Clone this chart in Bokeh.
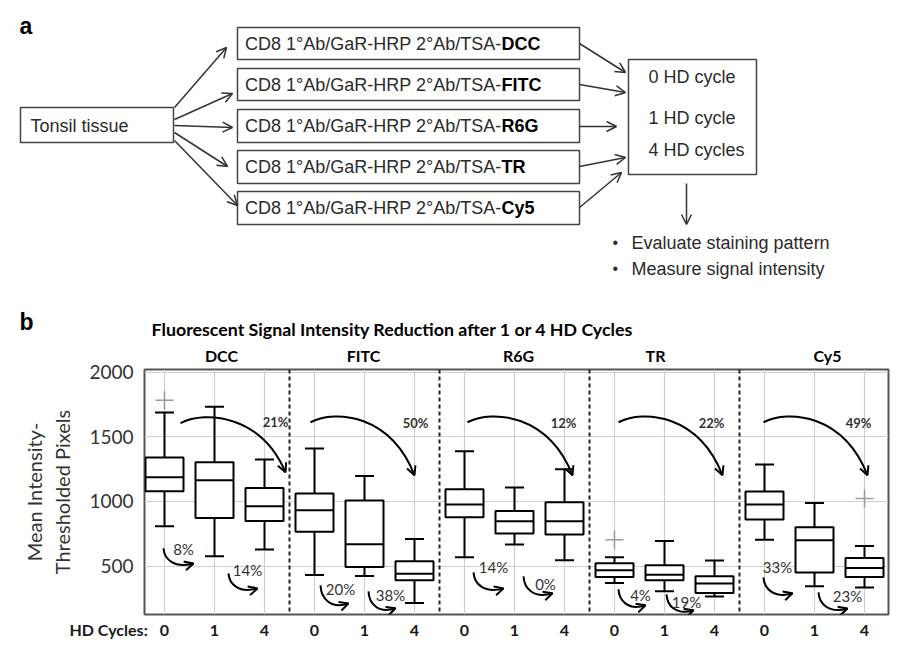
from bokeh.plotting import figure
from bokeh.models import ColumnDataSource, Range1d, FixedTicker, Span, Arrow, OpenHead, LinearAxis
from bokeh.embed import file_html
from bokeh.resources import INLINE
from bokeh.core.properties import value

# ---------------- data ----------------
dyes = ["DCC", "FITC", "R6G", "TR", "Cy5"]
cycles = ["0", "1", "4"]
upper = [1687, 1731, 1323, 1408, 1197, 709, 1388, 1107, 1248, 567, 694, 542, 1285, 988, 655]
q3 = [1339, 1303, 1104, 1060, 1006, 536, 1094, 926, 993, 521, 505, 420, 1076, 800, 562]
median = [1186, 1163, 962, 931, 668, 441, 975, 846, 846, 467, 433, 364, 975, 699, 485]
q1 = [1078, 872, 848, 766, 492, 389, 877, 751, 743, 415, 389, 291, 859, 449, 415]
lower = [807, 575, 627, 430, 423, 214, 567, 666, 544, 368, 304, 265, 704, 343, 333]
outlier_idx = [0, 9, 14]
outlier_val = [1782, 704, 1022]
pct_0_to_4 = ["21%", "50%", "12%", "22%", "49%"]
pct_0_to_1 = ["8%", "20%", "14%", "4%", "33%"]
pct_1_to_4 = ["14%", "38%", "0%", "19%", "23%"]
y_ticks = [500, 1000, 1500, 2000]
chart_title = "Fluorescent Signal Intensity Reduction after 1 or 4 HD Cycles"
y_label = "Mean Intensity-\nThresholded Pixels"
x_label = "HD Cycles:"
protocol_prefix = "CD8 1°Ab/GaR-HRP 2°Ab/TSA-"
source_label = "Tonsil tissue"
cycle_lines = ["0 HD cycle", "1 HD cycle", "4 HD cycles"]
outcomes = ["Evaluate staining pattern", "Measure signal intensity"]

INK = "#2b2b2b"
FA = "Liberation Sans"
FB = "Lato"

# ---------------- panel a (flow chart + panel b heading, pixel coordinates) ----------------
pa = figure(width=917, height=340, x_range=Range1d(0, 917), y_range=Range1d(340, 0),
            output_backend="svg", toolbar_location=None,
            x_axis_location=None, y_axis_location=None, min_border=0)
pa.grid.visible = False
pa.outline_line_color = None

row_top = [27, 68, 109, 150, 191]
row_bot = [59, 100, 142, 183, 224]
row_mid = [(a + b) / 2 for a, b in zip(row_top, row_bot)]

pa.quad(left=[20], right=[173], top=[107], bottom=[142], fill_color=None, line_color="#444", line_width=1.5)
pa.quad(left=[237] * 5, right=[579] * 5, top=row_top, bottom=row_bot, fill_color=None,
        line_color="#444", line_width=1.5)
pa.quad(left=[628], right=[756], top=[59], bottom=[174], fill_color=None, line_color="#444", line_width=1.5)

pa.text(x=[19, 19], y=[25, 321], text=["a", "b"], text_font=value(FA), text_font_style="bold",
        text_font_size="23px", text_baseline="middle", text_color="black")
pa.text(x=[392], y=[328], text=[chart_title], text_font=value(FB), text_font_style="bold",
        text_font_size="17.8px", text_baseline="middle", text_align="center", text_color="black")
pa.text(x=[30], y=[125], text=[source_label], text_font=value(FA), text_font_size="18px",
        text_baseline="middle", text_color=INK)
pa.text(x=[501] * 5, y=row_mid, text=[protocol_prefix] * 5, text_font=value(FA), text_font_size="18px",
        text_baseline="middle", text_align="right", text_color=INK)
pa.text(x=[501] * 5, y=row_mid, text=dyes, text_font=value(FA), text_font_size="18px",
        text_font_style="bold", text_baseline="middle", text_align="left", text_color="black")
pa.text(x=[648] * 3, y=[76, 117, 149], text=cycle_lines, text_font=value(FA), text_font_size="18px",
        text_baseline="middle", text_color=INK)
pa.text(x=[612] * 2, y=[242, 268], text=["•"] * 2, text_font=value(FA), text_font_size="16px",
        text_baseline="middle", text_color=INK)
pa.text(x=[631] * 2, y=[242, 268], text=outcomes, text_font=value(FA), text_font_size="18px",
        text_baseline="middle", text_color=INK)

flow_arrows = [
    (174, 107, 226, 47), (174, 119, 232, 93), (174, 125, 232, 127), (174, 132, 227, 166), (174, 140, 237, 205),
    (579, 43, 625, 72), (579, 84, 625, 92), (579, 126, 616, 126), (579, 166, 625, 157), (579, 207, 621, 172),
    (686, 183, 686, 224),
]
for x0, y0, x1, y1 in flow_arrows:
    pa.add_layout(Arrow(end=OpenHead(size=10, line_width=1.5, line_color="#333"),
                        x_start=x0, y_start=y0, x_end=x1, y_end=y1,
                        line_color="#333", line_width=1.5))

# ---------------- panel b (box plot) ----------------
pb = figure(width=917, height=308, x_range=Range1d(-0.4, 14.48), y_range=Range1d(125, 2020),
            output_backend="svg", toolbar_location=None,
            min_border_left=144, min_border_right=29, min_border_top=29, min_border_bottom=34)
bottom_axis = pb.xaxis[0]
left_axis = pb.yaxis[0]

xs = [g * 3 + c for g in range(len(dyes)) for c in range(len(cycles))]
group_lab_dx = [1.14, 0.98, 1.08, 0.82, 1.26]
group_ticks = [g * 3 + d for g, d in enumerate(group_lab_dx)]
x_label_pos = -0.34
tick_text = {x: cycles[x % 3] for x in xs}
tick_text[x_label_pos] = x_label + "\u00a0" * 20

bottom_axis.ticker = FixedTicker(ticks=[x_label_pos] + xs)
bottom_axis.major_label_overrides = tick_text
left_axis.ticker = FixedTicker(ticks=y_ticks)
pb.xgrid.ticker = FixedTicker(ticks=xs)
pb.ygrid.ticker = FixedTicker(ticks=y_ticks)
pb.grid.grid_line_color = "#cfcfcf"
pb.grid.grid_line_width = 1.2

top_axis = LinearAxis(ticker=FixedTicker(ticks=group_ticks),
                      major_label_overrides={t: d for t, d in zip(group_ticks, dyes)})
pb.add_layout(top_axis, "above")

for ax in (bottom_axis, left_axis, top_axis):
    ax.axis_line_color = None
    ax.major_tick_line_color = None
    ax.minor_tick_line_color = None
    ax.major_tick_out = 0
    ax.major_tick_in = 0
for ax in (bottom_axis, top_axis):
    ax.major_label_text_font = FB
    ax.major_label_text_font_style = "bold"
    ax.major_label_text_font_size = "16px"
    ax.major_label_standoff = 5
bottom_axis.major_label_text_color = "#1a1a1a"
top_axis.major_label_text_color = "black"
left_axis.major_label_text_font = FB
left_axis.major_label_text_font_size = "19px"
left_axis.major_label_text_color = "#333"
left_axis.major_label_standoff = 11
left_axis.axis_label = y_label
left_axis.axis_label_text_font = FB
left_axis.axis_label_text_font_style = "normal"
left_axis.axis_label_text_font_size = "20px"
left_axis.axis_label_text_color = "#333"
left_axis.axis_label_standoff = 12
pb.outline_line_color = "#555"
pb.outline_line_width = 2

for g in range(1, len(dyes)):
    pb.add_layout(Span(location=g * 3 - 0.5, dimension="height", line_color="#222",
                       line_width=2, line_dash="4 3"))

src = ColumnDataSource(dict(x=xs, upper=upper, q3=q3, med=median, q1=q1, lower=lower,
                            l=[x - 0.38 for x in xs], r=[x + 0.38 for x in xs],
                            cl=[x - 0.19 for x in xs], cr=[x + 0.19 for x in xs]))
pb.segment(x0="x", y0="q3", x1="x", y1="upper", source=src, line_color="black", line_width=2)
pb.segment(x0="x", y0="q1", x1="x", y1="lower", source=src, line_color="black", line_width=2)
pb.segment(x0="cl", y0="upper", x1="cr", y1="upper", source=src, line_color="black", line_width=2)
pb.segment(x0="cl", y0="lower", x1="cr", y1="lower", source=src, line_color="black", line_width=2)
pb.quad(left="l", right="r", top="q3", bottom="q1", source=src, fill_color="white",
        line_color="black", line_width=2)
pb.segment(x0="l", y0="med", x1="r", y1="med", source=src, line_color="black", line_width=2)
pb.scatter(x=outlier_idx, y=outlier_val, marker="cross", size=18, line_color="#9a9a9a",
           line_width=1.5, fill_color=None)

# annotation layout (offsets relative to each dye group's first position)
big_start = [(0.32, 1605), (-0.08, 1612), (0.06, 1612), (0.08, 1612), (-0.02, 1612)]
big_end = [(2.42, 1225), (2.0, 1202), (2.16, 1202), (2.16, 1202), (2.06, 1202)]
big_lab = [(2.22, 1615), (2.02, 1605), (1.98, 1605), (1.94, 1605), (1.88, 1605)]
sa_start = [(-0.02, 637), (0.12, 350), (0.18, 451), (0.08, 320), (-0.02, 412)]
sa_end = [(0.58, 520), (0.68, 211), (0.78, 327), (0.62, 196), (0.56, 289)]
sa_lab = [(0.38, 635), (0.52, 319), (0.58, 490), (0.52, 273), (0.26, 490)]
sb_start = [(1.28, 443), (1.08, 304), (1.18, 420), (1.04, 281), (1.08, 296)]
sb_end = [(1.86, 327), (1.62, 173), (1.76, 289), (1.58, 158), (1.66, 172)]
sb_lab = [(1.66, 467), (1.52, 273), (1.62, 358), (1.44, 219), (1.66, 265)]

curves = dict(x0=[], y0=[], x1=[], y1=[], cx0=[], cy0=[], cx1=[], cy1=[])
lab_big = dict(x=[], y=[], t=[])
lab_small = dict(x=[], y=[], t=[])

def curve(s, e, c1, c2):
    for k, v in zip(curves, (s[0], s[1], e[0], e[1], c1[0], c1[1], c2[0], c2[1])):
        curves[k].append(v)
    pb.add_layout(Arrow(end=OpenHead(size=9, line_width=2, line_color="black"),
                        x_start=c2[0], y_start=c2[1], x_end=e[0], y_end=e[1], line_alpha=0))

for g in range(len(dyes)):
    b = g * 3
    s = (b + big_start[g][0], big_start[g][1]); e = (b + big_end[g][0], big_end[g][1])
    dx = e[0] - s[0]
    curve(s, e, (s[0] + 0.24 * dx, s[1] + 100), (e[0] - 0.23 * dx, s[1] + 62))
    lab_big["x"].append(b + big_lab[g][0]); lab_big["y"].append(big_lab[g][1]); lab_big["t"].append(pct_0_to_4[g])
    for st, en, lb, txt in ((sa_start, sa_end, sa_lab, pct_0_to_1), (sb_start, sb_end, sb_lab, pct_1_to_4)):
        s = (b + st[g][0], st[g][1]); e = (b + en[g][0], en[g][1])
        dx = e[0] - s[0]; dy = s[1] - e[1]
        curve(s, e, (s[0] + 0.02 * dx, s[1] - 0.7 * dy), (s[0] + 0.35 * dx, e[1] - 0.35 * dy))
        lab_small["x"].append(b + lb[g][0]); lab_small["y"].append(lb[g][1]); lab_small["t"].append(txt[g])

pb.bezier(source=ColumnDataSource(curves), x0="x0", y0="y0", x1="x1", y1="y1",
          cx0="cx0", cy0="cy0", cx1="cx1", cy1="cy1", line_color="black", line_width=2)
pb.text(x="x", y="y", text="t", source=ColumnDataSource(lab_big), text_font=value(FB),
        text_font_style="bold", text_font_size="13px", text_align="center",
        text_baseline="middle", text_color="#333")
pb.text(x="x", y="y", text="t", source=ColumnDataSource(lab_small), text_font=value(FB),
        text_font_size="15px", text_align="center", text_baseline="middle", text_color="#333")

open("out.html", "w").write(file_html([pa, pb], INLINE))
